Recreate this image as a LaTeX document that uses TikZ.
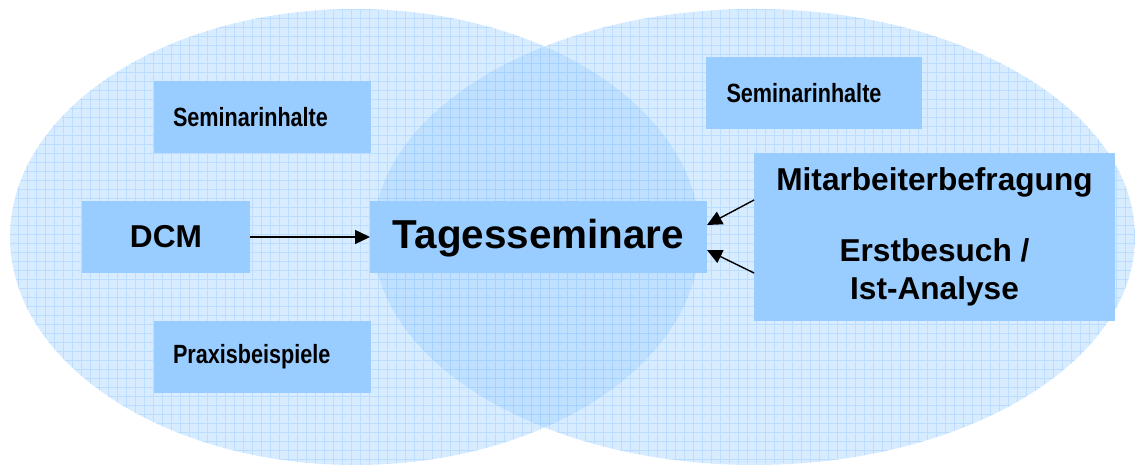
\documentclass[tikz,border=0pt]{standalone}
\usepackage{fontspec}
\setmainfont{Liberation Sans}
\newfontfamily\narrowsans[FakeStretch=0.82]{Liberation Sans}
\usetikzlibrary{positioning,arrows.meta}

\definecolor{boxblue}{RGB}{153,204,255}

\begin{document}
\begin{tikzpicture}[
    field/.style={fill=boxblue, fill opacity=0.38, draw=none},
    mesh/.style={draw=boxblue, line width=0.35pt, opacity=0.45},
    box/.style={rectangle, fill=boxblue, minimum height=1.44cm, inner sep=0pt, outer sep=0pt,
                font=\bfseries\fontsize{18}{21.6}\selectfont},
    topic/.style={box, minimum width=4.34cm, text width=3.58cm, align=left,
                  font=\narrowsans\bfseries\fontsize{15}{18}\selectfont},
    flow/.style={-{Triangle[length=0.3cm, width=0.28cm]}, line width=0.8pt},
    ]
    \useasboundingbox (0,0) rectangle (22.7,9.36);

    % the two overlapping fields
    \fill[field] (7.10,4.62) ellipse [x radius=6.90, y radius=4.56];
    \fill[field] (15.08,4.62) ellipse [x radius=7.62, y radius=4.56];
    \begin{scope}
        \clip (7.10,4.62) ellipse [x radius=6.90, y radius=4.56];
        \draw[mesh] (0,0) grid[step=0.18] (22.7,9.36);
    \end{scope}
    \begin{scope}
        \clip (15.08,4.62) ellipse [x radius=7.62, y radius=4.56];
        \draw[mesh] (0.09,0.09) grid[step=0.18] (22.7,9.36);
    \end{scope}

    % middle row
    \node[box, minimum width=3.36cm] (dcm) at (3.32,4.62) {DCM};
    \node[box, minimum width=6.74cm, right=2.4cm of dcm, text depth=0.12cm,
          font=\bfseries\fontsize{23}{27.6}\selectfont] (tages) {Tagesseminare};
    \node[box, minimum width=7.22cm, minimum height=3.36cm, align=center,
          right=0.94cm of tages] (vorab) {
        Mitarbeiterbefragung\\[18.7pt]
        Erstbesuch /\\
        Ist-Analyse
    };

    % seminar topics
    \node[topic] (inhalt_l) at (5.25,7.02) {Seminarinhalte};
    \node[topic] (praxis)   at (5.25,2.22) {Praxisbeispiele};
    \node[topic, minimum width=4.32cm, text width=3.50cm] (inhalt_r) at (16.28,7.50) {Seminarinhalte};

    % arrows into the day seminars
    \draw[flow] (dcm.east) to (tages.west);
    \draw[flow] ([yshift=0.74cm]vorab.west)  to ([yshift=0.24cm]tages.east);
    \draw[flow] ([yshift=-0.72cm]vorab.west) to ([yshift=-0.26cm]tages.east);
\end{tikzpicture}
\end{document}
